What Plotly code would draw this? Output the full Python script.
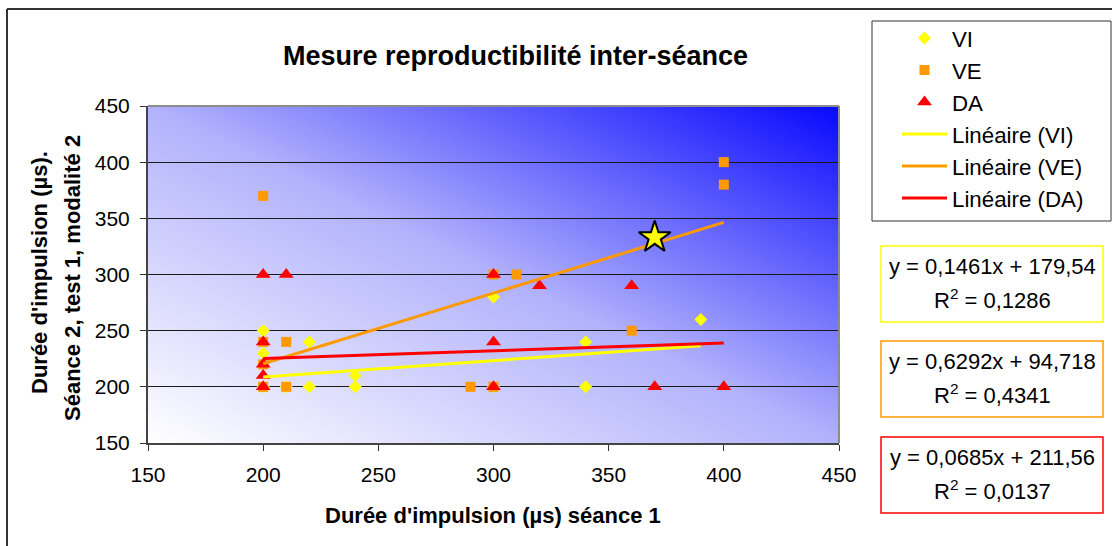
import base64
import plotly.graph_objects as go

# ---- data: pulse duration (µs), session 1 (x) vs session 2 (y) ----
vi_x = [200, 200, 200, 210, 220, 220, 240, 240, 300, 300, 340, 340, 390]
vi_y = [250, 230, 200, 200, 240, 200, 210, 200, 280, 200, 240, 200, 260]

ve_x = [200, 200, 210, 200, 200, 210, 290, 300, 300, 310, 360, 400, 400]
ve_y = [370, 240, 240, 220, 200, 200, 200, 200, 300, 300, 250, 400, 380]

da_x = [200, 210, 200, 200, 200, 200, 300, 300, 300, 320, 360, 370, 400]
da_y = [300, 300, 240, 220, 210, 200, 300, 240, 200, 290, 290, 200, 200]

series_names = ["VI", "VE", "DA"]
series_colors = ["#FFFF00", "#FF9900", "#FF0000"]
series_symbols = ["diamond", "square", "triangle-up"]
series_sizes = [10, 10, 13]

# linear trend lines (slope, intercept, R²)
trend_slopes = [0.1461, 0.6292, 0.0685]
trend_intercepts = [179.54, 94.718, 211.56]
trend_r2 = [0.1286, 0.4341, 0.0137]

highlight_x = [370]
highlight_y = [333]

axis_ticks = [150, 200, 250, 300, 350, 400, 450]

# ---- layout geometry (pixels) ----
W, H = 1112, 546
L, R, T, B = 148, 839, 106, 443
FONT = "Liberation Sans, Arial, sans-serif"


def px(xp):
    return (xp - L) / (R - L)


def py(yp):
    return (B - yp) / (B - T)


def fr(v, fmt):
    return format(v, fmt).replace(".", ",")


fig = go.Figure()

xs_all = [vi_x, ve_x, da_x]
ys_all = [vi_y, ve_y, da_y]

for name, xs, ys, col, sym, sz in zip(series_names, xs_all, ys_all,
                                       series_colors, series_symbols, series_sizes):
    fig.add_trace(go.Scatter(
        x=xs, y=ys, mode="markers", name=name,
        marker=dict(symbol=sym, color=col, size=sz, line=dict(width=0)),
    ))

for name, xs, col, a, b in zip(series_names, xs_all, series_colors,
                               trend_slopes, trend_intercepts):
    x0, x1 = min(xs), max(xs)
    fig.add_trace(go.Scatter(
        x=[x0, x1], y=[a * x0 + b, a * x1 + b], mode="lines",
        name=f"Linéaire ({name})",
        line=dict(color=col, width=3),
    ))

fig.add_trace(go.Scatter(
    x=highlight_x, y=highlight_y, mode="markers", showlegend=False,
    marker=dict(symbol="star", size=24, color="#FFFF00",
                line=dict(color="black", width=2)),
))

# diagonal gradient behind the plot area
svg = (
    '<svg xmlns="http://www.w3.org/2000/svg" width="300" height="300" '
    'viewBox="0 0 300 300" preserveAspectRatio="none">'
    '<defs><linearGradient id="g" x1="0" y1="1" x2="1" y2="0">'
    '<stop offset="0" stop-color="#FFFFFF"/>'
    '<stop offset="0.5" stop-color="#B2B2FC"/>'
    '<stop offset="1" stop-color="#0808FF"/>'
    '</linearGradient></defs>'
    '<rect width="300" height="300" fill="url(#g)"/></svg>'
)
svg_uri = "data:image/svg+xml;base64," + base64.b64encode(svg.encode()).decode()

fig.add_layout_image(dict(
    source=svg_uri, xref="x", yref="y", x=150, y=450, sizex=300, sizey=300,
    sizing="stretch", layer="below", xanchor="left", yanchor="top",
))

shapes = []
# top / right border of the plot area
shapes.append(dict(type="line", xref="paper", yref="paper", x0=0, x1=1, y0=1, y1=1,
                   line=dict(color="#8C8C8C", width=2)))
shapes.append(dict(type="line", xref="paper", yref="paper", x0=1, x1=1, y0=0, y1=1,
                   line=dict(color="#8C8C8C", width=2)))
# chart frame
shapes.append(dict(type="line", xref="paper", yref="paper", x0=px(7), x1=px(W + 20),
                   y0=py(9), y1=py(9), line=dict(color="#333333", width=2)))
shapes.append(dict(type="line", xref="paper", yref="paper", x0=px(7), x1=px(7),
                   y0=py(9), y1=py(H + 20), line=dict(color="#333333", width=2)))
# legend frame
shapes.append(dict(type="rect", xref="paper", yref="paper",
                   x0=px(872), x1=px(1111), y0=py(21), y1=py(221),
                   line=dict(color="#333333", width=1), fillcolor="white"))

annotations = []
box_tops = [246, 341, 437]
for col, a, b, r2, top in zip(series_colors, trend_slopes, trend_intercepts,
                              trend_r2, box_tops):
    shapes.append(dict(type="rect", xref="paper", yref="paper",
                       x0=px(881), x1=px(1103), y0=py(top), y1=py(top + 76),
                       line=dict(color=col, width=1.5), fillcolor="white"))
    annotations.append(dict(
        xref="paper", yref="paper", x=px(992.5), y=py(top + 20.5),
        xanchor="center", yanchor="middle", showarrow=False,
        text=f"y = {fr(a, '.4f')}x + {fr(b, '.5g')}",
        font=dict(family=FONT, size=22, color="black"),
    ))
    annotations.append(dict(
        xref="paper", yref="paper", x=px(992.5), y=py(top + 53),
        xanchor="center", yanchor="middle", showarrow=False,
        text=f"R<sup>2</sup> = {fr(r2, '.4f')}",
        font=dict(family=FONT, size=22, color="black"),
    ))

# titles
annotations.append(dict(
    xref="paper", yref="paper", x=px(515), y=py(56), xanchor="center", yanchor="middle",
    showarrow=False, text="<b>Mesure reproductibilité inter-séance</b>",
    font=dict(family=FONT, size=27, color="black"),
))
annotations.append(dict(
    xref="paper", yref="paper", x=px(493), y=py(515), xanchor="center", yanchor="middle",
    showarrow=False, text="<b>Durée d'impulsion (µs) séance 1</b>",
    font=dict(family=FONT, size=22, color="black"),
))
annotations.append(dict(
    xref="paper", yref="paper", x=px(39), y=py(273), xanchor="center", yanchor="middle",
    showarrow=False, textangle=-90, text="<b>Durée d'impulsion (µs).</b>",
    font=dict(family=FONT, size=22, color="black"),
))
annotations.append(dict(
    xref="paper", yref="paper", x=px(72), y=py(278), xanchor="center", yanchor="middle",
    showarrow=False, textangle=-90, text="<b>Séance 2, test 1, modalité 2</b>",
    font=dict(family=FONT, size=22, color="black"),
))

axis_common = dict(
    range=[150, 450], tickmode="array", tickvals=axis_ticks,
    ticktext=[str(v) for v in axis_ticks],
    gridcolor="#1A1A1A", gridwidth=1, zeroline=False,
    showline=True, linecolor="#444444", linewidth=2,
    ticks="outside", ticklen=6, tickwidth=1, tickcolor="#333333",
    tickfont=dict(family=FONT, size=21, color="black"),
    fixedrange=True,
)

fig.update_layout(
    width=W, height=H,
    margin=dict(l=L, r=W - R, t=T, b=H - B, pad=0),
    paper_bgcolor="white", plot_bgcolor="white",
    font=dict(family=FONT, color="black"),
    xaxis=dict(**axis_common, showgrid=False, ticklabelstandoff=6),
    yaxis=dict(**axis_common, showgrid=True, ticklabelstandoff=6),
    showlegend=True,
    legend=dict(
        x=px(897), y=py(17), xanchor="left", yanchor="top",
        bgcolor="rgba(0,0,0,0)", borderwidth=0,
        font=dict(family=FONT, size=22.3, color="black"),
        itemwidth=45, tracegroupgap=0,
    ),
    shapes=shapes,
    annotations=annotations,
)

fig.write_html("out.html")
